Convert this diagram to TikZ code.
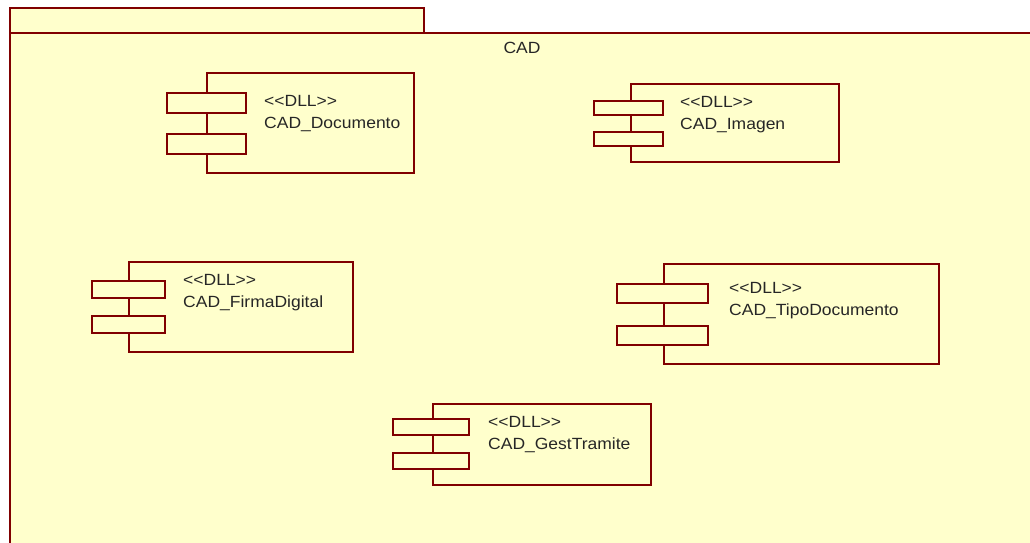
\documentclass[tikz,border=0pt]{standalone}
\usepackage{fontspec}
\setmainfont{Liberation Sans}[FakeStretch=1.08]
\definecolor{umlred}{RGB}{128,0,0}
\definecolor{umlfill}{RGB}{255,255,204}
\tikzset{
	pkgbox/.style={draw=umlred, fill=umlfill, line width=1.2pt, inner sep=0pt, outer sep=0pt},
	dllbox/.style={draw=umlred, fill=umlfill, line width=1.2pt, inner sep=0pt, outer sep=0pt},
	dllport/.style={dllbox},
	dlltext/.style={inner sep=0pt, font=\fontsize{16.2}{19}\selectfont, text=black!85}
}
\begin{document}
\begin{tikzpicture}[x=1pt, y=-1pt]
	\useasboundingbox (0,0) rectangle (1030,543);
	\clip (0,0) rectangle (1030,543);
	\fill[white] (0,0) rectangle (1030,543);

	%package CAD
	\node[pkgbox, anchor=north west, minimum width=414pt, minimum height=25pt] (pkgtab) at (10,8) {};
	\node[pkgbox, anchor=north west, minimum width=1040pt, minimum height=530pt] (pkgbody) at (10,33) {};
	\node[dlltext, anchor=base] (pkglabel) at (522,53) {CAD};

	%components
	\foreach \n/\bx/\by/\bw/\bh/\px/\pw/\pa/\pb/\ph/\tx/\ty/\name in {
		doc/207/73/207/100/167/79/93/134/20/264/106/CAD\_Documento,
		img/631/84/208/78/594/69/101/132/14/680/107/CAD\_Imagen,
		firma/129/262/224/90/92/73/281/316/17/183/285/CAD\_FirmaDigital,
		tipo/664/264/275/100/617/91/284/326/19/729/293/CAD\_TipoDocumento,
		gest/433/404/218/81/393/76/419/453/16/488/427/CAD\_GestTramite}{
		\node[dllbox, anchor=north west, minimum width=\bw pt, minimum height=\bh pt] (\n) at (\bx,\by) {};
		\node[dllport, anchor=north west, minimum width=\pw pt, minimum height=\ph pt] (\n-a) at (\px,\pa) {};
		\node[dllport, anchor=north west, minimum width=\pw pt, minimum height=\ph pt] (\n-b) at (\px,\pb) {};
		\node[dlltext, anchor=base west] (\n-s) at (\tx,\ty) {<{}<DLL>{}>};
		\node[dlltext, anchor=base west] (\n-t) at (\tx,\ty+22) {\name};
	}
\end{tikzpicture}
\end{document}
